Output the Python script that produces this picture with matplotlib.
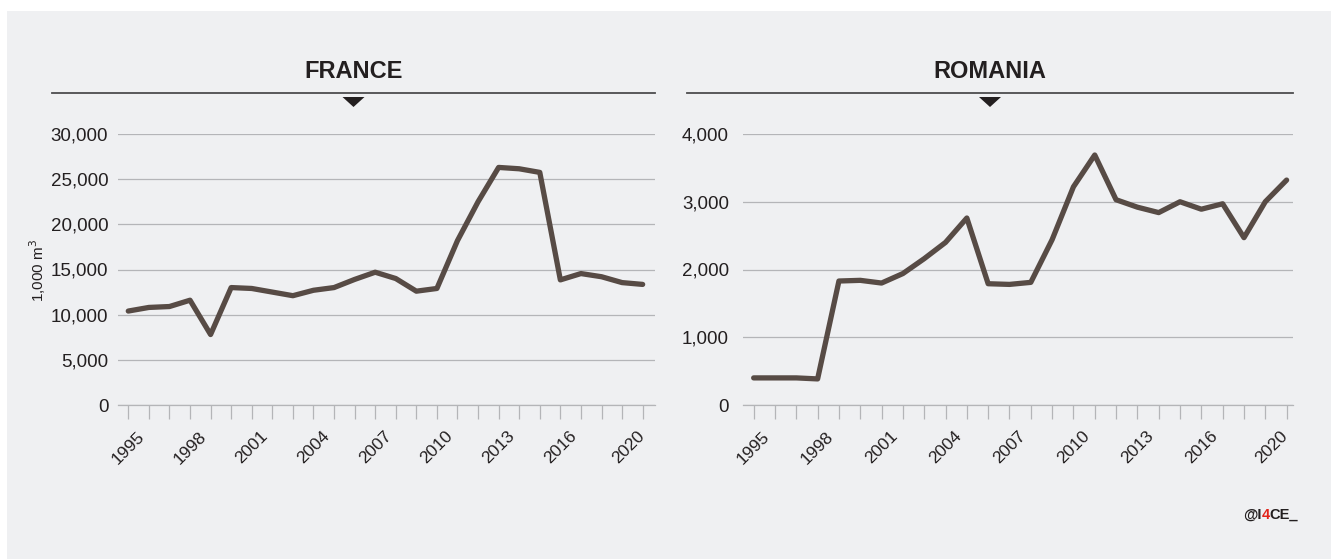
import numpy as np
import matplotlib.pyplot as plt
from matplotlib.patches import Rectangle, Polygon
from matplotlib.ticker import FuncFormatter

plt.rcParams['font.family'] = ['Liberation Sans', 'DejaVu Sans']

# ================= DATA =================

years = list(range(1995, 2021))

france = [10400, 10800, 10900, 11600, 7800, 13000, 12900, 12500, 12100, 12700,
          13000, 13900, 14700, 14000, 12600, 12900, 18200, 22500, 26300, 26150,
          25750, 13850, 14550, 14200, 13550, 13350]

romania = [400, 400, 400, 385, 1830, 1840, 1800, 1940, 2160, 2400,
           2760, 1790, 1780, 1810, 2440, 3220, 3690, 3030, 2920, 2840,
           3000, 2890, 2970, 2470, 3000, 3320]

tick_labels = ["1995", "1998", "2001", "2004", "2007", "2010", "2013", "2016", "2020"]
tick_pos = [1995, 1998, 2001, 2004, 2007, 2010, 2013, 2016, 2019.3]

france_ticks = [0, 5000, 10000, 15000, 20000, 25000, 30000]
romania_ticks = [0, 1000, 2000, 3000, 4000]

# ================= STYLE =================

W, H = 1331, 559
BG = "#eff0f2"
LINE = "#574b45"
GRID = "#b4b5b8"
TXT = "#231f20"

fig = plt.figure(figsize=(W / 100, H / 100), dpi=100)
fig.patch.set_facecolor("white")
fig.add_artist(Rectangle((7 / W, 0), 1 - 7 / W, 1 - 11 / H, transform=fig.transFigure,
                         facecolor=BG, edgecolor="none", zorder=-5))


def px(x0, y0, x1, y1):
    # pixel box (top-left origin) -> figure fraction rect
    return [x0 / W, 1 - y1 / H, (x1 - x0) / W, (y1 - y0) / H]


def panel(rect, values, yticks, xlim, title, head, pad):
    ax = fig.add_axes(rect)
    ax.set_facecolor("none")
    ax.plot(years, values, color=LINE, lw=3.8, solid_capstyle="round",
            solid_joinstyle="round", clip_on=False, zorder=3)
    ax.set_xlim(*xlim)
    ax.set_ylim(yticks[0], yticks[-1])
    ax.set_yticks(yticks)
    ax.yaxis.set_major_formatter(FuncFormatter(lambda v, p: f"{int(v):,}"))
    ax.grid(axis="y", color=GRID, lw=0.9)
    ax.set_axisbelow(True)
    for s in ["top", "right", "left"]:
        ax.spines[s].set_visible(False)
    ax.spines["bottom"].set_color(GRID)
    ax.spines["bottom"].set_linewidth(0.9)
    ax.tick_params(axis="y", length=0, pad=pad, labelsize=13.5, labelcolor=TXT)
    # labels on major ticks (no mark), a small tick mark for every year
    ax.xaxis.remove_overlapping_locs = False
    ax.set_xticks(tick_pos)
    ax.set_xticklabels(tick_labels, rotation=45, ha="center", va="top")
    ax.set_xticks(years, minor=True)
    ax.tick_params(axis="x", which="both", length=10, width=0.9, color=GRID,
                   labelsize=12.5, labelcolor=TXT, pad=17)
    ax.tick_params(axis="x", which="major", length=0)
    # header rule, triangle and title
    x0, x1 = head
    cx = (x0 + x1) / 2
    fig.add_artist(plt.Line2D([x0 / W, x1 / W], [1 - 93 / H] * 2, color="#4d4d4f",
                              lw=1.3, transform=fig.transFigure))
    fig.add_artist(Polygon([((cx - 11) / W, 1 - 97 / H), ((cx + 11) / W, 1 - 97 / H),
                            (cx / W, 1 - 107 / H)], closed=True, facecolor="#231f20",
                           edgecolor="none", transform=fig.transFigure))
    fig.text(cx / W, 1 - 71 / H, title, ha="center", va="center", fontsize=17,
             fontweight="bold", color=TXT)
    return ax


ax1 = panel(px(118, 134, 655, 405), france, france_ticks, (1994.5, 2020.6),
            "FRANCE", (52, 655), 7)
ax2 = panel(px(743, 134, 1293, 405), romania, romania_ticks, (1994.5, 2020.3),
            "ROMANIA", (687, 1293), 10)

fig.text(38 / W, 1 - 270 / H, "1,000 m$^3$", rotation=90, ha="center", va="center",
         fontsize=11, color=TXT)

# ================= CREDIT =================

fig.canvas.draw()
r = fig.canvas.get_renderer()
x = 1243 / W
for part, col in [("@I", TXT), ("4", "#e2231a"), ("CE_", TXT)]:
    t = fig.text(x, 1 - 515 / H, part, ha="left", va="center", fontsize=10.5,
                 fontweight="bold", color=col)
    bb = t.get_window_extent(r)
    x += bb.width / W

fig.savefig("out.png", dpi=100, facecolor=fig.get_facecolor())
